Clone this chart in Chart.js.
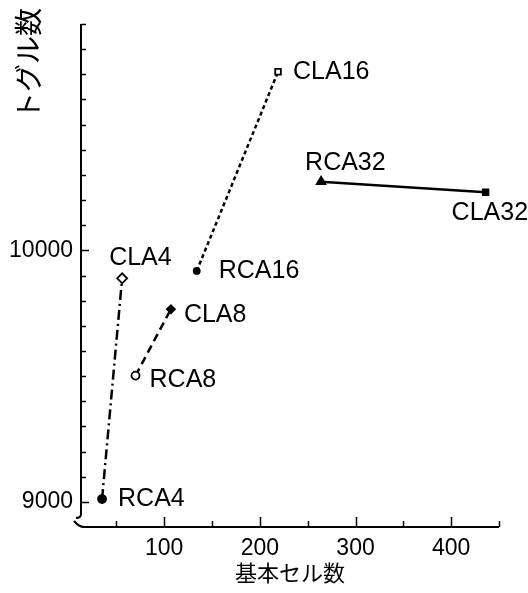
<!DOCTYPE html>
<html lang="ja">
<head>
  <meta charset="UTF-8">
  <title>トグル数と基本セル数</title>
  <script src="https://cdn.jsdelivr.net/npm/chart.js@4.4.4/dist/chart.umd.min.js"></script>
  <style>
    html, body { margin: 0; padding: 0; background: #fff; }
    #wrap { width: 528px; height: 593px; }
  </style>
</head>
<body>
  <div id="wrap"><canvas id="chart"></canvas></div>

  <script>
    // values
    const circuits = ['RCA4', 'CLA4', 'RCA8', 'CLA8', 'RCA16', 'CLA16', 'RCA32', 'CLA32'];
    const cellCounts = [35, 56, 70, 107, 134, 219, 264, 436];
    const toggleCounts = [9011, 9889, 9502, 9766, 9918, 10710, 10273, 10231];
    const xTickValues = [50, 100, 150, 200, 250, 300, 350, 400, 450];
    const yTickValues = [9000, 9100, 9200, 9300, 9400, 9500, 9600, 9700, 9800, 9900,
      10000, 10100, 10200, 10300, 10400, 10500, 10600, 10700, 10800, 10900];

    // look of each pair / point
    const pairDash = [[10, 4, 2, 4], [8, 5], [4, 3], []];
    const pointStyles = ['circle', 'rectRot', 'circle', 'rectRot', 'circle', 'rect', 'triangle', 'rect'];
    const pointFill = ['#000', '#fff', '#fff', '#000', '#000', '#fff', '#000', '#000'];
    const pointSize = [4, 5, 4, 4, 3, 4, 5, 4];
    const labelOffset = [[16, 0], [-13, -20], [14, 5], [13, 6], [22, 0], [15, 0], [-16, -19], [-34, 21]];

    const latinFont = "'Liberation Sans', Arial, sans-serif";
    const cjkFont = "'Noto Sans CJK JP', sans-serif";

    const datasets = [0, 1, 2, 3].map(p => {
      const idx = [2 * p, 2 * p + 1];
      return {
        label: circuits[idx[0]] + '-' + circuits[idx[1]],
        data: idx.map(i => ({ x: cellCounts[i], y: toggleCounts[i], i: i })),
        showLine: true,
        borderColor: '#000',
        borderWidth: 2.5,
        borderDash: pairDash[p],
        pointStyle: idx.map(i => pointStyles[i]),
        pointRadius: idx.map(i => pointSize[i]),
        pointBackgroundColor: idx.map(i => pointFill[i]),
        pointBorderColor: '#000',
        pointBorderWidth: 1.8
      };
    });

    // axes with inner ticks, the break at the corner, point names, y title
    const paperPlugin = {
      id: 'paper',
      afterDraw(chart) {
        const { ctx, chartArea: a } = chart;
        const x = chart.scales.x, y = chart.scales.y;
        ctx.save();
        ctx.strokeStyle = '#000';
        ctx.lineWidth = 2;

        ctx.beginPath();
        ctx.moveTo(a.left, a.top);
        ctx.lineTo(a.left, a.bottom - 13);
        ctx.quadraticCurveTo(a.left, a.bottom - 9, a.left - 5, a.bottom - 9);
        ctx.stroke();

        ctx.beginPath();
        ctx.moveTo(a.left - 7, a.bottom - 6);
        ctx.quadraticCurveTo(a.left - 2, a.bottom, a.left + 3, a.bottom);
        ctx.lineTo(a.right, a.bottom);
        ctx.stroke();

        ctx.lineWidth = 1.5;
        ctx.beginPath();
        yTickValues.forEach(v => {
          const py = Math.round(y.getPixelForValue(v)) + 0.5;
          ctx.moveTo(a.left, py);
          ctx.lineTo(a.left + (v % 1000 === 0 ? 8 : 5), py);
        });
        xTickValues.forEach(v => {
          const px = Math.round(x.getPixelForValue(v)) + 0.5;
          ctx.moveTo(px, a.bottom);
          ctx.lineTo(px, a.bottom - (v % 100 === 0 ? 10 : 6));
        });
        ctx.stroke();

        ctx.fillStyle = '#000';
        ctx.font = '25px ' + latinFont;
        ctx.textAlign = 'left';
        ctx.textBaseline = 'middle';
        chart.data.datasets.forEach((ds, d) => {
          chart.getDatasetMeta(d).data.forEach((pt, k) => {
            const i = ds.data[k].i;
            ctx.fillText(circuits[i], pt.x + labelOffset[i][0], pt.y + labelOffset[i][1]);
          });
        });

        ctx.font = '28px ' + cjkFont;
        ctx.textAlign = 'center';
        ctx.translate(28, 64);
        ctx.rotate(-Math.PI / 2);
        ctx.fillText('トグル数', 0, 0);
        ctx.restore();
      }
    };

    new Chart(document.getElementById('chart'), {
      type: 'scatter',
      data: { datasets: datasets },
      options: {
        responsive: true,
        maintainAspectRatio: false,
        animation: false,
        layout: { padding: { top: 24, right: 29, bottom: 0, left: 0 } },
        plugins: {
          legend: { display: false },
          tooltip: { enabled: false }
        },
        scales: {
          x: {
            type: 'linear',
            min: 13,
            max: 450,
            afterBuildTicks: s => { s.ticks = xTickValues.map(v => ({ value: v })); },
            afterFit: s => { s.height = 66; },
            grid: { display: false, drawTicks: false },
            border: { display: false },
            ticks: {
              callback: v => (v % 100 === 0 ? v : ''),
              autoSkip: false,
              maxRotation: 0,
              padding: 8,
              color: '#000',
              font: { family: latinFont, size: 23 }
            },
            title: {
              display: true,
              text: '基本セル数',
              color: '#000',
              font: { family: cjkFont, size: 22 },
              padding: { top: 0, bottom: 7 }
            }
          },
          y: {
            type: 'linear',
            min: 8900,
            max: 10900,
            afterBuildTicks: s => { s.ticks = yTickValues.map(v => ({ value: v })); },
            afterFit: s => { s.width = 81; },
            grid: { display: false, drawTicks: false },
            border: { display: false },
            ticks: {
              callback: v => (v % 1000 === 0 ? v : ''),
              autoSkip: false,
              padding: 8,
              color: '#000',
              font: { family: latinFont, size: 23 }
            }
          }
        }
      },
      plugins: [paperPlugin]
    });
  </script>
</body>
</html>
